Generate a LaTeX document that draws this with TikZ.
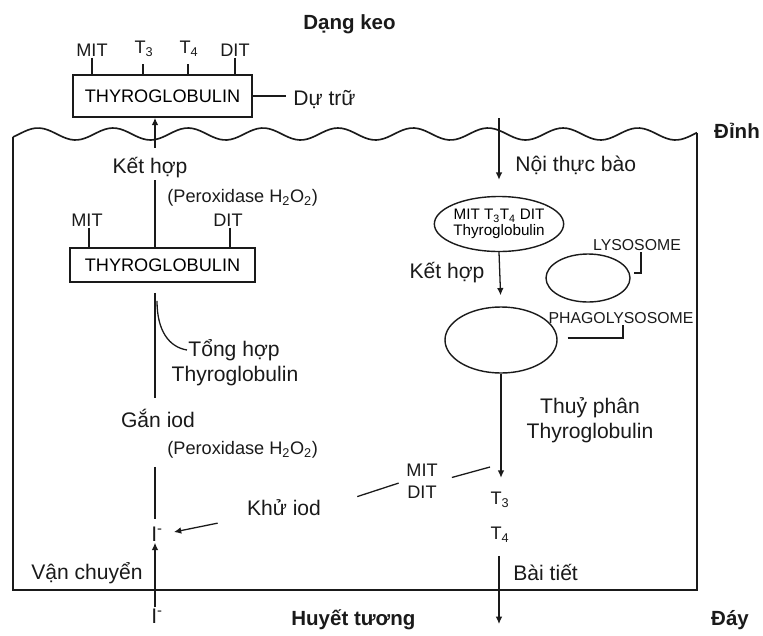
\documentclass[tikz,border=0pt]{standalone}
\usepackage{fontspec}
\setmainfont{Liberation Sans}
\usepackage{tikz}
\usetikzlibrary{positioning, arrows.meta, calc, shapes.geometric}
\definecolor{ink}{HTML}{1A1A1A}

\begin{document}
\begin{tikzpicture}[x=0.03cm, y=-0.03cm,
      lbl/.style={font=\fontsize{18}{21.5}\selectfont, text=ink, inner sep=1pt, align=center},
      sm/.style={lbl, font=\fontsize{15.5}{19}\selectfont},
      tiny/.style={lbl, font=\fontsize{13.5}{15}\selectfont},
      hd/.style={lbl, font=\fontsize{17.5}{21}\selectfont\bfseries},
      tgbox/.style={rectangle, draw=ink, line width=1.4pt, inner sep=0pt,
        font=\fontsize{15.5}{18}\selectfont},
      ves/.style={ellipse, draw=ink, line width=1.2pt, inner sep=0pt,
        font=\fontsize{13}{13.5}\selectfont, align=center},
      conn/.style={draw=ink, line width=1.1pt},
      arrow/.style={-{Latex[length=2.2mm, width=2mm]}, line width=1.1pt, color=ink}]

    \useasboundingbox (0,0) rectangle (763,635);
    \coordinate (axis) at (155,0);

    % membrane and cell
    \coordinate (wl) at (13,137);
    \coordinate (wr) at (697,132.6);
    \draw[conn, line width=1.4pt] plot[domain=13:697, samples=180, smooth]
      (\x, {134 - 6*sin((\x-19.25)*4.8)});
    \draw[conn, line width=1.6pt] (wl) -- (13,590) -- (697,590) -- (wr);

    \node[hd, anchor=west] (keo) at (302,24) {Dạng keo};
    \node[hd] (dinh) at (737,131) {Đỉnh};
    \node[hd] (day) at (730,620) {Đáy};
    \node[hd, anchor=west] (huyet) at (290,620) {Huyết tương};

    % left side
    \node[tgbox, minimum width=5.37cm, minimum height=1.26cm] (tg1) at (162.5,96) {THYROGLOBULIN};
    \node[sm] (mit1) at (92,50) {MIT};
    \node[sm] (t31) at (144,49) {T\textsubscript{3}};
    \node[sm] (t41) at (189,49) {T\textsubscript{4}};
    \node[sm] (dit1) at (235,50) {DIT};
    \draw[conn] (mit1.south -| 92,0) -- (92,0 |- tg1.north);
    \draw[conn] (143,64) -- (143,0 |- tg1.north);
    \draw[conn] (188,64) -- (188,0 |- tg1.north);
    \draw[conn] (dit1.south -| 235,0) -- (235,0 |- tg1.north);
    \node[lbl, anchor=west] (dutru) at (292,100) {Dự trữ};
    \draw[conn, shorten >=0.18cm] (tg1.east) -- (dutru.west |- tg1.east);

    \node[lbl] (khop1) at (150,168) {Kết hợp};
    \node[sm, anchor=west] (perox1) at (166,198) {(Peroxidase H\textsubscript{2}O\textsubscript{2})};
    \node[tgbox, minimum width=5.55cm, minimum height=1.02cm] (tg2) at (162.5,265) {THYROGLOBULIN};
    \node[sm] (mit2) at (87,220) {MIT};
    \node[sm] (dit2) at (228,220) {DIT};
    \draw[conn] (mit2.south -| 89,0) -- (89,0 |- tg2.north);
    \draw[conn] (dit2.south -| 230,0) -- (230,0 |- tg2.north);

    \draw[arrow, shorten <=0.25cm] (khop1.north -| axis) -- (tg1.south -| axis);
    \draw[conn] (tg2.north -| axis) -- (khop1.south -| axis);

    \node[lbl] (tonghop) at (234,350) {Tổng hợp};
    \node[lbl] (tgthyro) at (235,376) {Thyroglobulin};
    \node[lbl] (gan) at (158,418) {Gắn iod};
    \node[sm, anchor=west] (perox2) at (166,450) {(Peroxidase H\textsubscript{2}O\textsubscript{2})};
    \draw[conn, shorten <=0.3cm, shorten >=0.27cm] (tg2.south -| axis) -- (gan.north -| axis);
    \draw[conn] ($(tg2.south -| axis)+(2,18)$) .. controls +(0,30) and +(-18,-3) .. (tonghop.west);

    \node[lbl] (iodin) at (157,534) {I\textsuperscript{-}};
    \node[lbl] (iodout) at (157,616) {I\textsuperscript{-}};
    \node[lbl] (vanch) at (87,573) {Vận chuyển};
    \draw[conn, shorten <=1.15cm, shorten >=0.2cm] (gan.south -| axis) -- (iodin.north -| axis);
    \draw[arrow, line width=2pt] (iodout.north -| axis) -- (iodin.south -| axis);

    \node[lbl] (khuiod) at (284,508) {Khử iod};
    \node[sm] (mitdit) at (422,481) {MIT\\DIT};
    \draw[arrow, shorten <=0.55cm, shorten >=0.3cm] ($(khuiod.south west)+(-10,2)$) -- (iodin.east);
    \draw[conn, shorten <=0.2cm, shorten >=1.1cm] (mitdit.west) -- (khuiod.east);

    % right side
    \coordinate (endo) at (499,118);
    \node[lbl, anchor=west] (nothuc) at (514,165) {Nội thực bào};
    \node[ves, minimum width=3.24cm, minimum height=1.65cm] (ves1) at (499,224)
      {MIT T\textsubscript{3}T\textsubscript{4} DIT\\Thyroglobulin};
    \node[lbl] (khop2) at (447,273) {Kết hợp};
    \node[ves, minimum width=2.52cm, minimum height=1.44cm] (lyso) at (588,278) {};
    \node[tiny] (lysolbl) at (637,245) {LYSOSOME};
    \node[ves, minimum width=3.36cm, minimum height=1.98cm] (phago) at (501,340) {};
    \node[tiny] (phagolbl) at (621,318) {PHAGOLYSOSOME};
    \node[lbl] (thuy) at (590,420) {Thuỷ phân\\Thyroglobulin};

    \draw[arrow, shorten >=0.48cm] (endo) -- (ves1.north);
    \draw[arrow, shorten >=0.33cm] (ves1.south) -- (phago.north);
    \draw[conn] ($(lysolbl.south)+(4,0)$) |- ($(lyso.east)+(3,-5)$);
    \draw[conn] ($(phago.east)+(10,-2)$) -| (phagolbl.south -| 623,0);

    \node[sm] (t3) at (500,500) {T\textsubscript{3}};
    \node[sm] (t4) at (500,535) {T\textsubscript{4}};
    \coordinate (hp) at (490,467);
    \coordinate (blood) at (499,624);
    \node[lbl, anchor=west] (baitiet) at (512,572) {Bài tiết};
    \draw[arrow, shorten >=0.39cm] (phago.south) -- (t3.north -| phago.south);
    \draw[conn, shorten <=0.4cm] (mitdit.east) -- (hp);
    \draw[arrow, shorten <=0.35cm] (t4.south -| blood) -- (blood);
  \end{tikzpicture}
\end{document}
